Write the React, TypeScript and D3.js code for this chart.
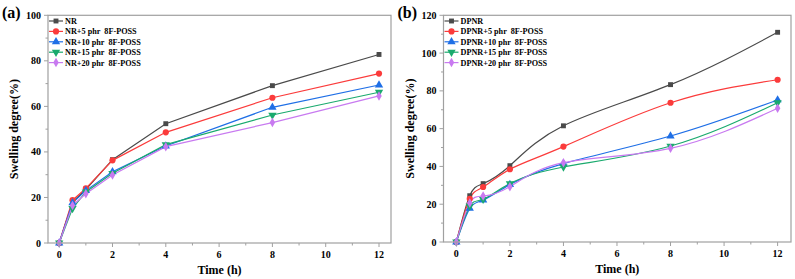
import React from 'react';
import * as d3 from 'd3';

// time points (h)
const times = [0, 0.5, 1, 2, 4, 8, 12];

// panel (a): NR compounds
const namesA = ['NR', 'NR+5 phr  8F-POSS', 'NR+10 phr  8F-POSS', 'NR+15 phr  8F-POSS', 'NR+20 phr  8F-POSS'];
const nr0 = [0, 18.0, 23.5, 36.6, 52.4, 69.1, 82.8];
const nr5 = [0, 18.8, 24.0, 36.3, 48.6, 63.8, 74.4];
const nr10 = [0, 17.6, 23.0, 31.3, 42.6, 59.6, 69.4];
const nr15 = [0, 15.2, 22.4, 30.6, 43.2, 56.2, 66.2];
const nr20 = [0, 16.5, 21.6, 29.9, 42.3, 52.9, 64.6];

// panel (b): DPNR compounds
const namesB = ['DPNR', 'DPNR+5 phr  8F-POSS', 'DPNR+10 phr  8F-POSS', 'DPNR+15 phr  8F-POSS', 'DPNR+20 phr  8F-POSS'];
const dp0 = [0, 24.5, 30.9, 40.4, 61.5, 83.3, 111.0];
const dp5 = [0, 22.9, 29.1, 38.5, 50.5, 73.7, 85.9];
const dp10 = [0, 17.8, 22.2, 30.4, 41.5, 56.1, 75.2];
const dp15 = [0, 19.0, 22.6, 30.9, 39.7, 50.8, 73.7];
const dp20 = [0, 20.6, 24.3, 29.3, 42.0, 49.6, 70.8];

const colors = ['#4a4a4a', '#fb3b3b', '#1f6fe6', '#1aaa6e', '#c87af0'];
const symbols = [d3.symbolSquare, d3.symbolCircle, d3.symbolTriangle, 'down', d3.symbolDiamond];

const FONT = '"Liberation Serif", "Times New Roman", serif';

interface PanelProps {
  x0: number;
  x1: number;
  y0: number;
  y1: number;
  xDomain: [number, number];
  yMax: number;
  yStep: number;
  names: string[];
  series: number[][];
  smooth: boolean;
  tag: string;
}

const Marker: React.FC<{ kind: any; x: number; y: number; color: string }> = ({ kind, x, y, color }) => {
  if (kind === 'down') {
    const p = d3.symbol().type(d3.symbolTriangle).size(30)();
    return <path d={p || ''} transform={`translate(${x},${y}) rotate(180)`} fill={color} />;
  }
  const size = kind === d3.symbolDiamond ? 26 : kind === d3.symbolSquare ? 24 : 30;
  const p = d3.symbol().type(kind).size(size)();
  return <path d={p || ''} transform={`translate(${x},${y})`} fill={color} />;
};

const Panel: React.FC<PanelProps> = ({ x0, x1, y0, y1, xDomain, yMax, yStep, names, series, smooth, tag }) => {
  const x = d3.scaleLinear().domain(xDomain).range([x0, x1]);
  const y = d3.scaleLinear().domain([0, yMax]).range([y1, y0]);
  const line = d3
    .line<number>()
    .x((_, i) => x(times[i]))
    .y((d) => y(d))
    .curve(smooth ? d3.curveNatural : d3.curveLinear);

  const xMajor = d3.range(0, 13, 2);
  const xMinor = d3.range(1, 13, 2);
  const yMajor = d3.range(0, yMax + 0.1, yStep);
  const yMinor = d3.range(yStep / 2, yMax, yStep);
  const frame = '#a0a0a0';

  return (
    <g>
      <text x={x0 - 46} y={y0 + 3} fontFamily={FONT} fontWeight="bold" fontSize={16}>
        {tag}
      </text>
      {series.map((s, k) => (
        <path key={k} d={line(s) || ''} fill="none" stroke={colors[k]} strokeWidth={1.2} />
      ))}
      {series.map((s, k) =>
        s.map((v, i) => <Marker key={`${k}-${i}`} kind={symbols[k]} x={x(times[i])} y={y(v)} color={colors[k]} />)
      )}
      <rect x={x0} y={y0} width={x1 - x0} height={y1 - y0} fill="none" stroke={frame} strokeWidth={1.2} />
      {xMajor.map((t) => (
        <g key={`xm${t}`}>
          <line x1={x(t)} x2={x(t)} y1={y1} y2={y1 + 4} stroke={frame} />
          <text x={x(t)} y={y1 + 15} textAnchor="middle" fontFamily={FONT} fontWeight="bold" fontSize={10}>
            {t}
          </text>
        </g>
      ))}
      {xMinor.map((t) => (
        <line key={`xn${t}`} x1={x(t)} x2={x(t)} y1={y1} y2={y1 + 2.5} stroke={frame} />
      ))}
      {yMajor.map((v) => (
        <g key={`ym${v}`}>
          <line x1={x0 - 4} x2={x0} y1={y(v)} y2={y(v)} stroke={frame} />
          <text x={x0 - 7} y={y(v) + 3.5} textAnchor="end" fontFamily={FONT} fontWeight="bold" fontSize={10}>
            {v}
          </text>
        </g>
      ))}
      {yMinor.map((v) => (
        <line key={`yn${v}`} x1={x0 - 2.5} x2={x0} y1={y(v)} y2={y(v)} stroke={frame} />
      ))}
      <text
        transform={`translate(${x0 - 30},${(y0 + y1) / 2}) rotate(-90)`}
        textAnchor="middle"
        fontFamily={FONT}
        fontWeight="bold"
        fontSize={12}
      >
        Swelling degree(%)
      </text>
      <text x={(x0 + x1) / 2} y={y1 + 31} textAnchor="middle" fontFamily={FONT} fontWeight="bold" fontSize={12}>
        Time (h)
      </text>
      {names.map((n, k) => {
        const ly = y0 + 5.7 + k * 10.4;
        return (
          <g key={n}>
            <line x1={x0 + 1} x2={x0 + 15} y1={ly} y2={ly} stroke={colors[k]} strokeWidth={1.2} />
            <Marker kind={symbols[k]} x={x0 + 8} y={ly} color={colors[k]} />
            <text x={x0 + 17} y={ly + 3} fontFamily={FONT} fontWeight="bold" fontSize={8.2} style={{ whiteSpace: 'pre' }}>
              {n}
            </text>
          </g>
        );
      })}
    </g>
  );
};

const App: React.FC = () => (
  <svg width={795} height={279} style={{ position: 'absolute', left: 0, top: 0, background: '#fff' }}>
    <Panel
      x0={48}
      x1={391}
      y0={15.3}
      y1={243}
      xDomain={[-0.42, 12.45]}
      yMax={100}
      yStep={20}
      names={namesA}
      series={[nr0, nr5, nr10, nr15, nr20]}
      smooth={false}
      tag="(a)"
    />
    <Panel
      x0={443.5}
      x1={791}
      y0={15.3}
      y1={242}
      xDomain={[-0.48, 12.5]}
      yMax={120}
      yStep={20}
      names={namesB}
      series={[dp0, dp5, dp10, dp15, dp20]}
      smooth={true}
      tag="(b)"
    />
  </svg>
);

export default App;
